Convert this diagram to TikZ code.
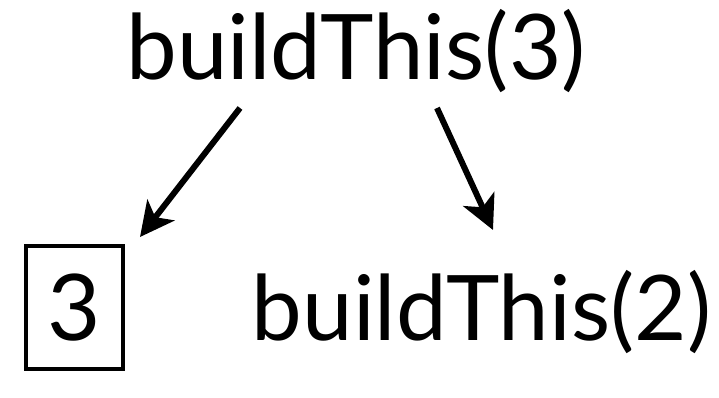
\documentclass[tikz,border=0pt]{standalone}
\usepackage{fontspec}
\setmainfont{Lato}
\usetikzlibrary{arrows.meta}
\begin{document}
\begin{tikzpicture}[
        x=1pt, y=-1pt,
        call/.style={inner sep=0pt, anchor=base, font=\fontsize{90.5}{100}\selectfont},
        valuebox/.style={draw=black, line width=4.5pt, minimum width=97pt, minimum height=123pt, inner sep=0pt, font=\fontsize{92}{100}\selectfont},
        link/.style={line width=6pt, -{Stealth[length=34pt, width=34pt, inset=9pt]}}
    ]
        \useasboundingbox (0,0) rectangle (719,398);
        % Calls and result
        \node[call] (top) at (356,80) {buildThis(3)};
        \node[valuebox] (three) at (74.5,307.5) {3};
        \node[call] (next) at (481.5,340) {buildThis(2)};
        % Arrow ends
        \coordinate (leftfrom) at (240,108);
        \coordinate (leftto) at (140,237);
        \coordinate (rightfrom) at (437,108);
        \coordinate (rightto) at (493,230);
        \draw[link] (leftfrom) -- (leftto);
        \draw[link] (rightfrom) -- (rightto);
    \end{tikzpicture}
\end{document}
